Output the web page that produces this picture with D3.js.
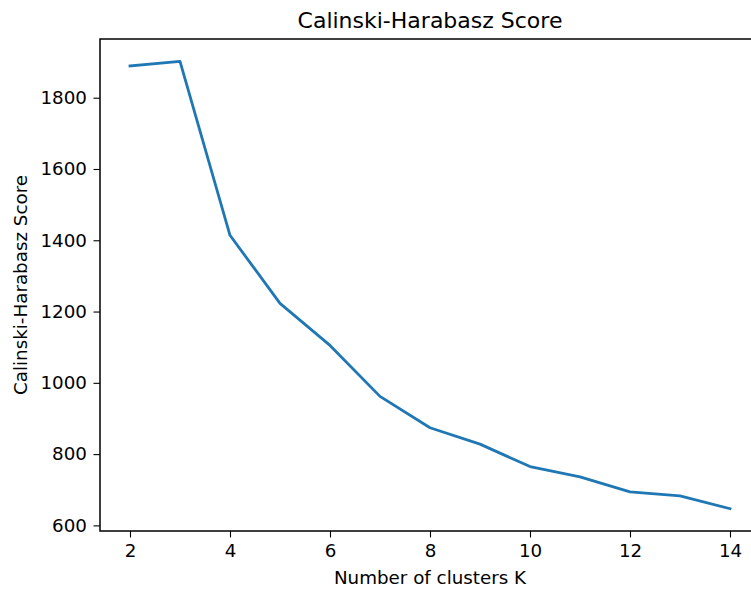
<!DOCTYPE html>
<html>
<head>
<meta charset="utf-8">
<script src="https://cdn.jsdelivr.net/npm/d3@7"></script>
<style>
  html, body { margin: 0; padding: 0; background: #fff; }
  svg { display: block; overflow: hidden; }
  text { font-family: "DejaVu Sans", sans-serif; fill: #000; }
</style>
</head>
<body>
<svg id="chart" width="751" height="590"></svg>
<script>
// Number of clusters tried and the Calinski-Harabasz score for each
const clusterCounts = [2, 3, 4, 5, 6, 7, 8, 9, 10, 11, 12, 13, 14];
const chScores = [1889, 1902, 1414, 1223, 1105, 962, 874, 828, 765, 736, 694, 683, 647];
const xTickValues = [2, 4, 6, 8, 10, 12, 14];
const yTickValues = [600, 800, 1000, 1200, 1400, 1600, 1800];

const svg = d3.select("#chart");
const plot = { left: 100, right: 760, top: 39, bottom: 531 };

// 5% padding around the data range on both axes
const xMin = d3.min(clusterCounts), xMax = d3.max(clusterCounts);
const xPad = (xMax - xMin) * 0.05;
const yMin = d3.min(chScores), yMax = d3.max(chScores);
const yPad = (yMax - yMin) * 0.05;

const x = d3.scaleLinear().domain([xMin - xPad, xMax + xPad]).range([plot.left, plot.right]);
const y = d3.scaleLinear().domain([yMin - yPad, yMax + yPad]).range([plot.bottom, plot.top]);

const tickLen = 6.5, tickPad = 6.5, fontSize = 18.3;

// x axis
const xAxis = svg.append("g")
  .attr("transform", `translate(0,${plot.bottom})`)
  .call(d3.axisBottom(x).tickValues(xTickValues).tickFormat(d3.format("d"))
    .tickSize(tickLen).tickPadding(tickPad));
// y axis
const yAxis = svg.append("g")
  .attr("transform", `translate(${plot.left},0)`)
  .call(d3.axisLeft(y).tickValues(yTickValues).tickFormat(d3.format("d"))
    .tickSize(tickLen).tickPadding(tickPad));

[xAxis, yAxis].forEach(g => {
  g.select(".domain").remove();
  g.selectAll(".tick line").attr("stroke", "#000").attr("stroke-width", 1.1);
  g.selectAll(".tick text")
    .attr("font-family", "DejaVu Sans, sans-serif")
    .attr("font-size", fontSize)
    .attr("fill", "#222");
});

// score curve
const line = d3.line()
  .x((d, i) => x(clusterCounts[i]))
  .y(d => y(d));
svg.append("path")
  .datum(chScores)
  .attr("fill", "none")
  .attr("stroke", "#1f77b4")
  .attr("stroke-width", 2.8)
  .attr("stroke-linejoin", "round")
  .attr("stroke-linecap", "square")
  .attr("d", line);

// frame
svg.append("rect")
  .attr("x", plot.left).attr("y", plot.top)
  .attr("width", plot.right - plot.left).attr("height", plot.bottom - plot.top)
  .attr("fill", "none").attr("stroke", "#000").attr("stroke-width", 1.5);

// title and axis labels
svg.append("text")
  .attr("x", (plot.left + plot.right) / 2).attr("y", 28)
  .attr("text-anchor", "middle")
  .attr("font-size", 22)
  .attr("fill", "#222")
  .text("Calinski-Harabasz Score");

svg.append("text")
  .attr("x", (plot.left + plot.right) / 2).attr("y", 584)
  .attr("text-anchor", "middle")
  .attr("font-size", fontSize)
  .attr("fill", "#222")
  .text("Number of clusters K");

svg.append("text")
  .attr("transform", `translate(27,${(plot.top + plot.bottom) / 2}) rotate(-90)`)
  .attr("text-anchor", "middle")
  .attr("font-size", fontSize)
  .attr("fill", "#222")
  .text("Calinski-Harabasz Score");
</script>
</body>
</html>
